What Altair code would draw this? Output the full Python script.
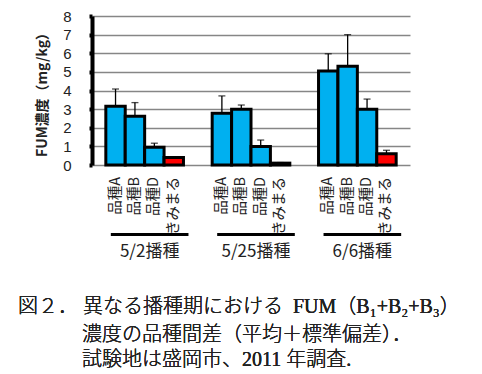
import altair as alt
import pandas as pd

groups = ["5/2播種", "5/25播種", "6/6播種"]
varieties = ["品種A", "品種B", "品種D", "きみまる"]
means = [
    [3.15, 2.62, 0.95, 0.40],
    [2.78, 2.99, 1.00, 0.10],
    [5.05, 5.30, 2.99, 0.60],
]
sds = [
    [0.93, 0.73, 0.22, 0.05],
    [0.93, 0.23, 0.34, 0.03],
    [0.92, 1.70, 0.55, 0.19],
]
bar_colors = ["#00B0F0", "#00B0F0", "#00B0F0", "#FF0000"]
y_ticks = [0, 1, 2, 3, 4, 5, 6, 7, 8]
y_title = "FUM濃度（mg/kg）"
caption = [
    "図２． 異なる播種期における\u2002FUM（B₁+B₂+B₃）",
    "濃度の品種間差（平均＋標準偏差）．",
    "試験地は盛岡市、2011 年調査.",
]

rows = []
for gi, g in enumerate(groups):
    for vi, v in enumerate(varieties):
        rows.append({"group": g, "variety": v, "mean": means[gi][vi],
                     "top": means[gi][vi] + sds[gi][vi]})
df = pd.DataFrame(rows)
gdf = pd.DataFrame({"group": groups})

JP = "Noto Sans CJK JP"
SERIF = "Liberation Serif, DejaVu Serif, Noto Sans CJK JP"

xscale = alt.Scale(domain=groups, paddingInner=0.27, paddingOuter=0.13)
xoff = alt.XOffset("variety:N", sort=varieties, scale=alt.Scale(domain=varieties, paddingInner=0, paddingOuter=0))
X = alt.X("group:N", sort=groups, scale=xscale, axis=None)
yscale = alt.Scale(domain=[0, 8], nice=False)
yaxis = alt.Axis(values=y_ticks, tickCount=20, format="d", labelOverlap=False, title=y_title, grid=True,
                 gridColor="#868686", gridWidth=1.5,
                 domainColor="black", domainWidth=4, tickColor="black", tickWidth=4, tickSize=3,
                 labelFont="Liberation Sans", labelFontSize=15, labelColor="#222", labelPadding=18,
                 titleFont=JP, titleFontSize=14, titleFontWeight="bold", titleColor="#222",
                 titleX=-50, titleY=75, titleAngle=270, titleAlign="center", titleBaseline="middle")
Y = alt.Y("mean:Q", scale=yscale, axis=yaxis)
Ytop = alt.Y("top:Q", scale=yscale, axis=yaxis)

base = alt.Chart(df)

err = base.mark_rule(color="black", strokeWidth=1.3).encode(x=X, xOffset=xoff, y=Y, y2="top:Q")
bars = base.mark_bar(stroke="black", strokeWidth=3).encode(
    x=X, xOffset=xoff, y=Y,
    color=alt.Color("variety:N", sort=varieties, scale=alt.Scale(domain=varieties, range=bar_colors), legend=None))
caps = base.mark_tick(color="black", thickness=1.3, size=7).encode(x=X, xOffset=xoff, y=Ytop)

vlabels = base.mark_text(angle=270, align="right", baseline="middle", font=JP, fontSize=14.5, color="#222").encode(
    x=X, xOffset=xoff, y=alt.value(161), text="variety:N")

glines = alt.Chart(gdf).mark_bar(color="black", xOffset=5).encode(x=X, y=alt.value(217), y2=alt.value(220))
glabels = alt.Chart(gdf).mark_text(font=JP, fontSize=17, color="#222", dx=5, baseline="middle").encode(
    x=X, y=alt.value(236), text="group:N")

cap_style = dict(font=SERIF, fontSize=20, fontWeight=300, align="left", baseline="middle", color="#222")
cap1 = alt.Chart(gdf).mark_text(text=caption[0], **cap_style).encode(x=alt.value(-74), y=alt.value(291))
cap2 = alt.Chart(gdf).mark_text(text=caption[1], **cap_style).encode(x=alt.value(-10), y=alt.value(319))
cap3 = alt.Chart(gdf).mark_text(text=caption[2], **cap_style).encode(x=alt.value(-10), y=alt.value(344))

chart = alt.layer(err, bars, caps, vlabels, glines, glabels, cap1, cap2, cap3).properties(
    width=318, height=149,
    autosize=alt.AutoSizeParams(type="none"),
    padding={"left": 84, "top": 8, "right": 64, "bottom": 204},
).configure_view(stroke=None)

chart.save("out.html", embed_options={"renderer": "svg", "actions": False})
